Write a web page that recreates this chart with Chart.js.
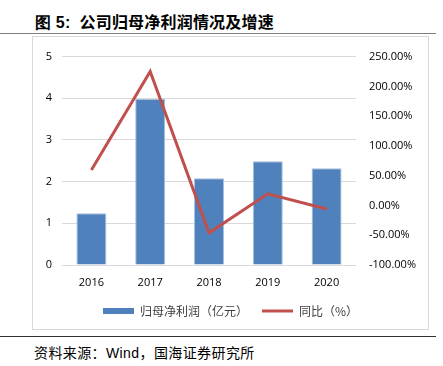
<!DOCTYPE html>
<html><head><meta charset="utf-8">
<script src="https://cdn.jsdelivr.net/npm/chart.js@4/dist/chart.umd.min.js"></script>
<style>
html,body{margin:0;padding:0;background:#fff;width:443px;height:366px;overflow:hidden;position:relative;font-family:"Noto Sans CJK SC","Liberation Sans",sans-serif;}
#title{position:absolute;left:35px;top:9px;font-size:16px;font-weight:bold;color:#000;letter-spacing:0.2px;white-space:nowrap;}
#title .n{font-family:"Liberation Sans",sans-serif;margin-right:9px;}
#tline{position:absolute;left:0;top:33px;width:436px;height:1px;background:#808080;}
#frame{position:absolute;left:32px;top:36px;width:397px;height:294px;border:1px solid #d9d9d9;box-sizing:border-box;}
#bline{position:absolute;left:0;top:336px;width:436px;height:1px;background:#333;}
#src{position:absolute;left:34px;top:342px;font-size:14px;color:#000;letter-spacing:0.4px;white-space:nowrap;}
#src .w{font-family:"Liberation Sans",sans-serif;}
#wrap{position:absolute;left:33px;top:37px;width:395px;height:292px;}
</style></head><body>
<div id="title"><span class="n">图 5:</span>公司归母净利润情况及增速</div>
<div id="tline"></div>
<div id="frame"></div>
<div id="wrap"><canvas id="c"></canvas></div>
<div id="bline"></div>
<div id="src">资料来源：<span class="w">Wind</span>，国海证券研究所</div>
<script>
const categories = ['2016','2017','2018','2019','2020'];
const profit = [1.24, 3.98, 2.08, 2.49, 2.32];
const growth = [59.5, 225, -46, 19.5, -6];
const leftTicks = [0,1,2,3,4,5];
const rightTicks = [-100,-50,0,50,100,150,200,250];
const seriesNames = ['归母净利润（亿元）','同比（%）'];

const tickFont = {family:'"Open Sans","Liberation Sans",sans-serif', size:11};
new Chart(document.getElementById('c'), {
  data:{
    labels:categories,
    datasets:[
      {type:'line', label:seriesNames[1], data:growth, yAxisID:'y1', borderColor:'#C0504D', backgroundColor:'#C0504D', borderWidth:3, pointRadius:0, pointStyle:'line', tension:0, order:0},
      {type:'bar', label:seriesNames[0], data:profit, yAxisID:'y', backgroundColor:'#4F81BD', borderColor:'#A7C0DE', borderWidth:1, pointStyle:'rect', barPercentage:0.51, categoryPercentage:1, order:1}
    ]
  },
  options:{
    responsive:true, maintainAspectRatio:false, animation:false,
    layout:{padding:{top:17,left:0,right:0,bottom:2}},
    plugins:{
      legend:{position:'bottom', reverse:true,
        labels:{usePointStyle:true, pointStyleWidth:31, boxWidth:31, boxHeight:6, font:{family:'"Noto Sans CJK SC",sans-serif', size:12}, color:'#404040', padding:14,
          generateLabels(chart){
            const items = Chart.defaults.plugins.legend.labels.generateLabels(chart);
            items.forEach(it=>{ if(it.pointStyle==='rect'){ it.lineWidth=0; it.strokeStyle='#4F81BD'; } });
            return items;
          }}},
      tooltip:{enabled:false}
    },
    scales:{
      x:{grid:{display:false}, border:{display:false}, ticks:{font:tickFont, color:'#000', padding:3},
         afterFit(s){s.height=26;}},
      y:{position:'left', min:0, max:5, afterBuildTicks(s){s.ticks=leftTicks.map(v=>({value:v}));},
         grid:{color:'#d9d9d9', lineWidth:1, drawTicks:false}, border:{display:false},
         ticks:{font:tickFont, color:'#000', padding:10}, afterFit(s){s.width=29;}},
      y1:{position:'right', min:-100, max:250, afterBuildTicks(s){s.ticks=rightTicks.map(v=>({value:v}));},
         grid:{display:false, drawTicks:false}, border:{display:false},
         ticks:{font:tickFont, color:'#000', padding:13, callback:v=>v.toFixed(2)+'%'}, afterFit(s){s.width=72;}}
    }
  }
});
</script>
</body></html>
